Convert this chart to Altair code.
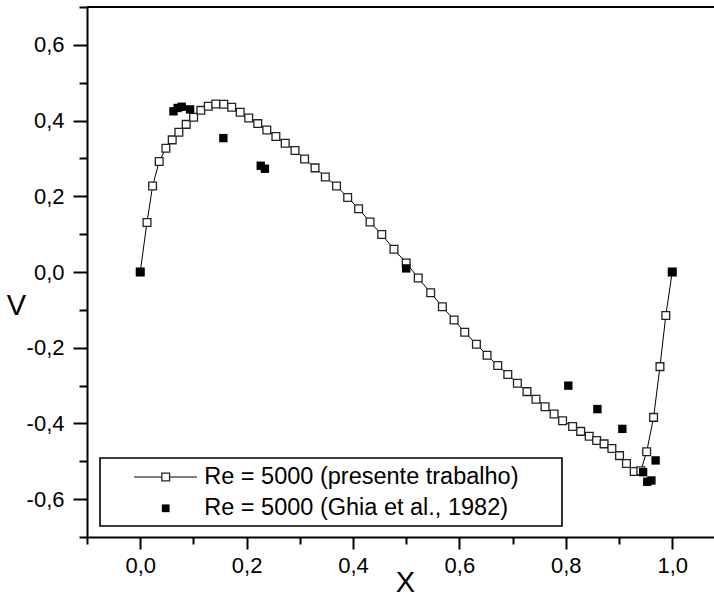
import altair as alt
import pandas as pd

# Ghia et al. (1982), Re = 5000, v-velocity on horizontal centreline
ghia_x = [1.0000, 0.9688, 0.9609, 0.9531, 0.9453, 0.9063, 0.8594, 0.8047,
          0.5000, 0.2344, 0.2266, 0.1563, 0.0938, 0.0781, 0.0703, 0.0625, 0.0000]
ghia_y = [0.00000, -0.49774, -0.55069, -0.55408, -0.52876, -0.41442, -0.36214,
          -0.30018, 0.00945, 0.27280, 0.28066, 0.35368, 0.42951, 0.43648,
          0.43329, 0.42447, 0.00000]

# present work
pt_x = [0.0, 0.0128, 0.0233, 0.0357, 0.0483, 0.0602, 0.0727, 0.0865, 0.1004, 0.114,
        0.128, 0.142, 0.157, 0.172, 0.188, 0.204, 0.221, 0.238, 0.255, 0.2726,
        0.291, 0.309, 0.3286, 0.348, 0.369, 0.390, 0.4105, 0.432, 0.454, 0.477,
        0.500, 0.5226, 0.546, 0.568, 0.590, 0.610, 0.632, 0.652, 0.672, 0.691,
        0.709, 0.727, 0.744, 0.761, 0.778, 0.794, 0.8128, 0.828, 0.844, 0.858,
        0.872, 0.8866, 0.901, 0.914, 0.9286, 0.941, 0.952, 0.965, 0.977, 0.988, 1.0]
pt_y = [0.0, 0.131, 0.227, 0.292, 0.327, 0.349, 0.369, 0.390, 0.409, 0.427,
        0.438, 0.444, 0.443, 0.435, 0.422, 0.407, 0.392, 0.375, 0.358, 0.340,
        0.321, 0.2985, 0.275, 0.251, 0.227, 0.197, 0.167, 0.132, 0.099, 0.060,
        0.024, -0.016, -0.055, -0.092, -0.127, -0.159, -0.191, -0.220, -0.247, -0.271,
        -0.294, -0.316, -0.336, -0.356, -0.375, -0.393, -0.408, -0.421, -0.434, -0.445,
        -0.454, -0.466, -0.485, -0.506, -0.527, -0.525, -0.475, -0.384, -0.250, -0.115, 0.0]

x_major = [0.0, 0.2, 0.4, 0.6, 0.8, 1.0]
x_minor = [-0.1, 0.1, 0.3, 0.5, 0.7, 0.9]
y_major = [-0.6, -0.4, -0.2, 0.0, 0.2, 0.4, 0.6]
y_minor = [-0.7, -0.5, -0.3, -0.1, 0.1, 0.3, 0.5, 0.7]
legend_labels = ["Re = 5000 (presente trabalho)", "Re = 5000 (Ghia et al., 1982)"]

W, H = 627, 530
X_MIN = -0.1
X_MAX = -0.1 + W / 532.0
Y_MIN, Y_MAX = -0.7, 0.7
FONT = "Liberation Sans"

pt_df = pd.DataFrame({"x": pt_x, "y": pt_y, "i": list(range(len(pt_x)))})
ghia_df = pd.DataFrame({"x": ghia_x, "y": ghia_y})

label_expr = ("(datum.value < -0.0001 ? '-' : '') + "
              "replace(format(abs(datum.value), '.1f'), '.', ',')")

common_axis = dict(
    grid=False, domainColor="black", domainWidth=2, tickColor="black", tickWidth=2,
    labelFont=FONT, labelFontSize=22, labelColor="black", labelFlush=False,
    labelOverlap=False, titleFont=FONT, titleFontSize=29, titleFontWeight="normal",
    titleColor="black", titleAngle=0, titleAlign="center", titleBaseline="middle",
)

x_scale = alt.Scale(domain=[X_MIN, X_MAX], nice=False, zero=False)
y_scale = alt.Scale(domain=[Y_MIN, Y_MAX], nice=False, zero=False)

x_enc = alt.X("x:Q", scale=x_scale,
              axis=alt.Axis(values=x_major, tickSize=12, labelExpr=label_expr,
                            orient="bottom", title="X", labelPadding=6,
                            titleX=318, titleY=45, **common_axis))
y_enc = alt.Y("y:Q", scale=y_scale,
              axis=alt.Axis(values=y_major, tickSize=14, labelExpr=label_expr,
                            orient="left", title="V", labelPadding=9,
                            titleX=-71, titleY=298, **common_axis))

# minor ticks: second, label-less axes on the same scales' domains
minor = alt.Chart(pt_df).mark_point(opacity=0).encode(
    x=alt.X("x:Q", scale=x_scale,
            axis=alt.Axis(values=x_minor, tickSize=7, tickWidth=2, tickColor="black",
                          labels=False, domain=False, grid=False, title=None,
                          orient="bottom")),
    y=alt.Y("y:Q", scale=y_scale,
            axis=alt.Axis(values=y_minor, tickSize=8, tickWidth=2, tickColor="black",
                          labels=False, domain=False, grid=False, title=None,
                          orient="left")),
)

line = alt.Chart(pt_df).mark_line(color="black", strokeWidth=1).encode(
    x=x_enc, y=y_enc, order="i:Q")
open_sq = alt.Chart(pt_df).mark_point(shape="square", size=60, filled=True,
                                      fill="white", stroke="#222", strokeWidth=1.3,
                                      opacity=1).encode(
    x=alt.X("x:Q", scale=x_scale), y=alt.Y("y:Q", scale=y_scale))
ghia = alt.Chart(ghia_df).mark_point(shape="square", size=70, filled=True,
                                     color="black", opacity=1).encode(
    x=alt.X("x:Q", scale=x_scale), y=alt.Y("y:Q", scale=y_scale))

top_border = alt.Chart(pd.DataFrame({"a": [0]})).mark_rule(
    color="black", strokeWidth=2).encode(
    x=alt.value(0), x2=alt.value(W), y=alt.value(0))

# legend (decoration)
leg_df = pd.DataFrame({"a": [0]})
leg_box = alt.Chart(leg_df).mark_rect(fill="white", stroke="black", strokeWidth=1.6).encode(
    x=alt.value(13), x2=alt.value(475), y=alt.value(451), y2=alt.value(519))
leg_line = alt.Chart(leg_df).mark_rule(color="#555", strokeWidth=1.3).encode(
    x=alt.value(47), x2=alt.value(110), y=alt.value(470))
leg_open = alt.Chart(leg_df).mark_point(shape="square", size=60, filled=True,
                                        fill="white", stroke="#222", strokeWidth=1.3,
                                        opacity=1).encode(
    x=alt.value(78.7), y=alt.value(470))
leg_fill = alt.Chart(leg_df).mark_point(shape="square", size=60, filled=True,
                                        color="black", opacity=1).encode(
    x=alt.value(78.7), y=alt.value(501.3))
leg_text1 = alt.Chart(pd.DataFrame({"t": [legend_labels[0]]})).mark_text(
    align="left", baseline="middle", font=FONT, fontSize=23.5, color="black").encode(
    x=alt.value(117.3), y=alt.value(470), text="t:N")
leg_text2 = alt.Chart(pd.DataFrame({"t": [legend_labels[1]]})).mark_text(
    align="left", baseline="middle", font=FONT, fontSize=23.5, color="black").encode(
    x=alt.value(117.3), y=alt.value(501.3), text="t:N")

main = alt.layer(line, open_sq, ghia, top_border, leg_box, leg_line, leg_open,
                 leg_fill, leg_text1, leg_text2)

chart = alt.layer(minor, main).resolve_scale(
    x="independent", y="independent"
).resolve_axis(
    x="independent", y="independent"
).properties(
    width=W, height=H,
    autosize=alt.AutoSizeParams(type="none"),
    padding={"left": 87, "top": 7, "right": 0, "bottom": 61},
    background="white",
).configure_view(stroke=None)

chart.save("out.html", embed_options={"renderer": "svg", "actions": False})
